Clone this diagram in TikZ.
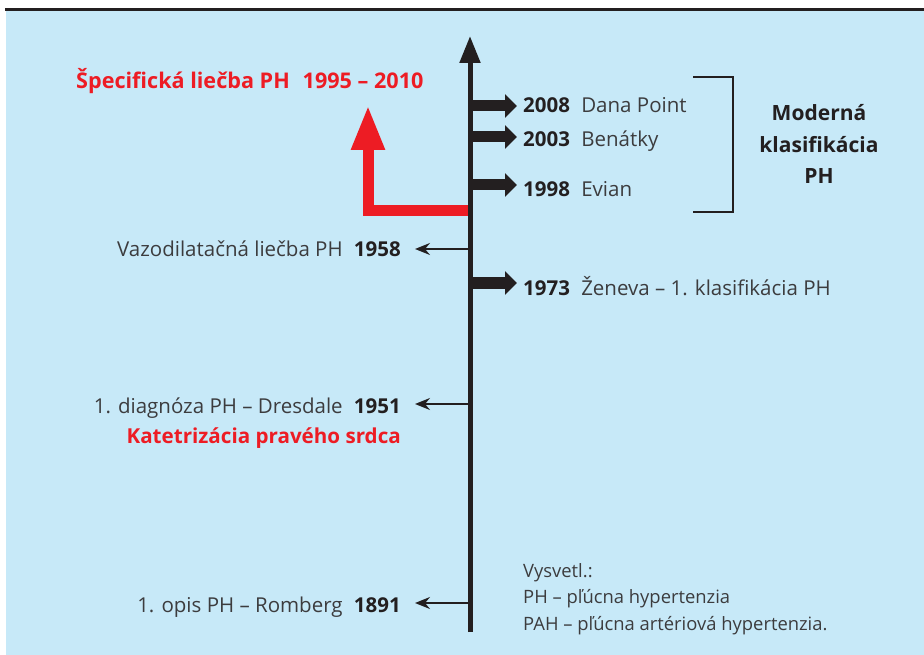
\documentclass[tikz,border=0pt]{standalone}
\usepackage{fontspec}
\setmainfont{Open Sans}
\usetikzlibrary{arrows.meta}
\definecolor{bg}{HTML}{C7E9F8}
\definecolor{ink}{HTML}{231F20}
\definecolor{txt}{HTML}{3C3C3E}
\definecolor{redc}{HTML}{ED1C24}
\begin{document}
\begin{tikzpicture}[x=1pt,y=-1pt,
  lbl/.style={inner sep=0pt, text=txt, font=\fontsize{20.5}{22}\selectfont},
  redlbl/.style={inner sep=0pt, text=redc, font=\fontsize{20.6}{22}\selectfont\bfseries},
  blockarrow/.style={draw=ink, line width=11pt, -{Triangle[length=12pt,width=23pt]}},
  thinarrow/.style={draw=ink, line width=1.8pt, -{Stealth[length=15pt,width=12pt,inset=5pt]}}]
% page, rule and panel
\useasboundingbox (0,0) rectangle (924,655);
\fill[white] (0,0) rectangle (924,655);
\fill[bg] (6,11) rectangle (924,655);
\draw[ink, line width=3pt] (5,9.5) -- (924,9.5);

% time axis
\coordinate (axbot) at (470,632);
\coordinate (axtop) at (470,36);
\draw[ink, line width=5pt, -{Triangle[length=27pt,width=20pt]}] (axbot) -- (axtop);

% events on the right
\newcommand\evt[5]{%
  \coordinate (#1a) at (470,#2);
  \node[lbl, anchor=base west] (#1) at (523,#3) {\textcolor{ink}{\bfseries #4}\hspace{0.55em}#5};
  \draw[blockarrow] (#1a) -- (#1a -| 517,0);
}
\evt{e2008}{106}{113}{2008}{Dana Point}
\evt{e2003}{137}{147}{2003}{Benátky}
\evt{e1998}{185}{197}{1998}{Evian}
\evt{e1973}{283}{295}{1973}{Ženeva – 1. klasifikácia PH}

% events on the left
\newcommand\levt[5]{%
  \coordinate (#1a) at (470,#2);
  \node[lbl, anchor=base east] (#1) at (401,#3) {#5\hspace{0.55em}\textcolor{ink}{\bfseries #4}};
  \draw[thinarrow] (#1a) -- ([xshift=14pt]#1a -| #1.east);
}
\levt{e1958}{249}{257}{1958}{Vazodilatačná liečba PH}
\levt{e1951}{404}{413}{1951}{1. diagnóza PH – Dresdale}
\levt{e1891}{603}{612}{1891}{1. opis PH – Romberg}
\node[redlbl, anchor=base east] (kat) at (401,443) {Katetrizácia pravého srdca};

% specific therapy period
\coordinate (rs) at (468,211);
\coordinate (rt) at (368,105);
\draw[redc, line width=11pt, line join=miter, -{Triangle[length=45pt,width=31pt]}] (rs) -| (rt);
\node[redlbl, anchor=base west, font=\fontsize{21.6}{22}\selectfont\bfseries] (spec) at (76,89) {Špecifická liečba PH\hspace{0.6em}1995 – 2010};

% bracket and its label
\coordinate (b1) at (693,77);
\coordinate (b2) at (733,77);
\coordinate (b3) at (733,212);
\coordinate (b4) at (693,212);
\draw[ink, line width=2pt] (b1) -- (b2) -- (b3) -- (b4);
\node[inner sep=0pt, text=ink, align=center, anchor=base, font=\fontsize{21}{31.5}\selectfont\bfseries] (mod) at (819,184) {Moderná\\klasifikácia\\PH};

% legend
\node[lbl, anchor=base west, align=left, font=\fontsize{18.4}{26.5}\selectfont] (leg) at (523,630) {Vysvetl.:\\PH – pľúcna hypertenzia\\PAH – pľúcna artériová hypertenzia.};
\end{tikzpicture}
\end{document}
